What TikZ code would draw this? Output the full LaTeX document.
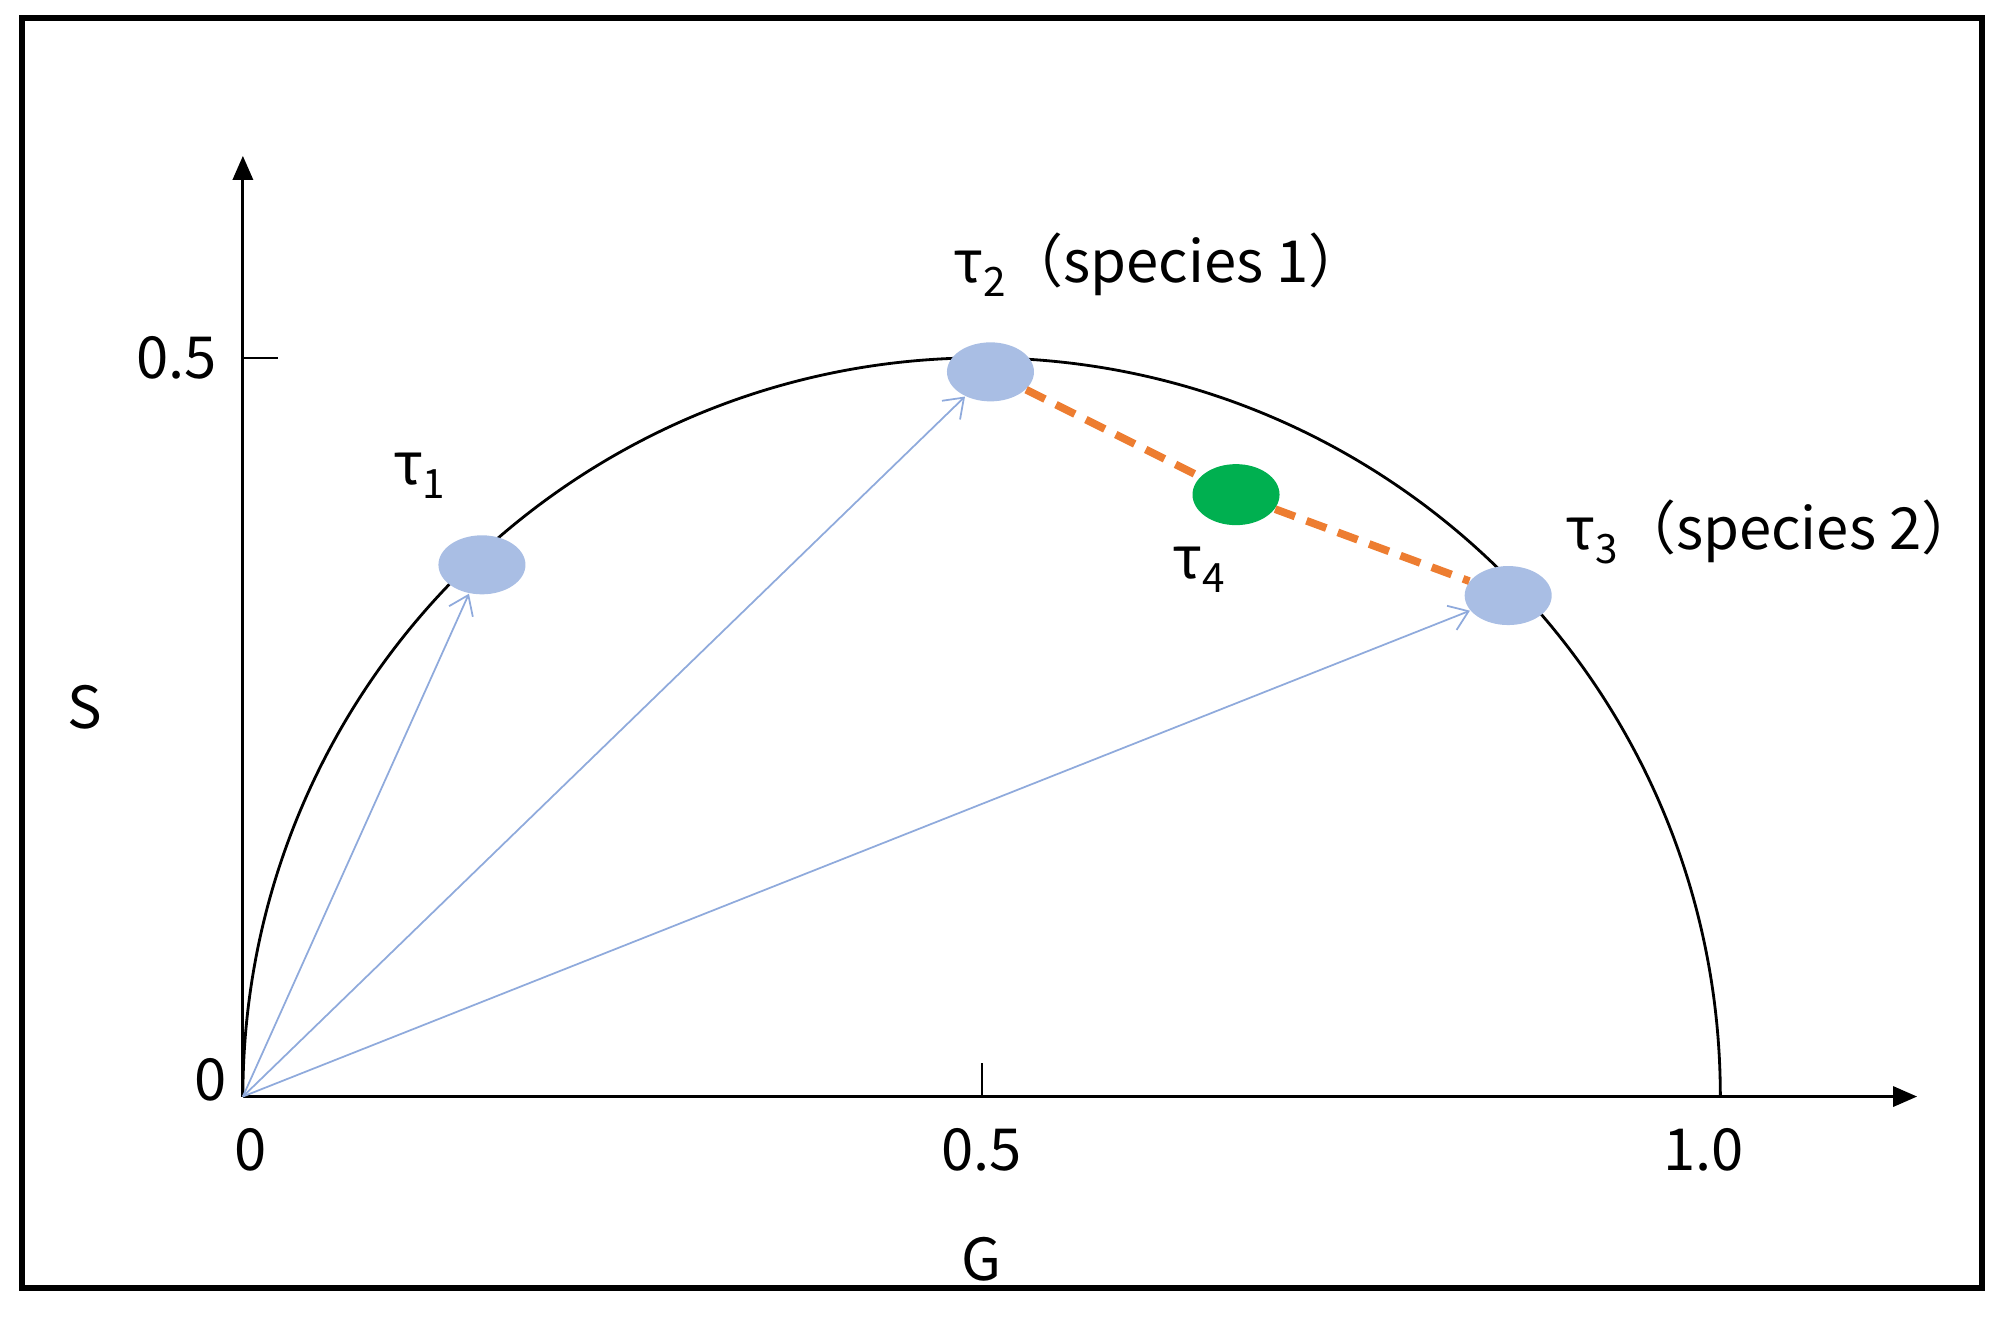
\documentclass[tikz,border=0pt]{standalone}
\usepackage{fontspec}
\setmainfont{Noto Sans CJK SC}
\usetikzlibrary{arrows.meta,shapes.geometric}
\definecolor{vecblue}{HTML}{8FAADC}
\definecolor{dotblue}{HTML}{A9BEE4}
\definecolor{mixgreen}{HTML}{00B050}
\definecolor{linkorange}{HTML}{ED7D31}
\newcommand\idx[1]{\raisebox{-0.45ex}{\fontsize{11.5}{13}\selectfont #1}}

\begin{document}
\begin{tikzpicture}[x=14.77cm, y=14.77cm, font=\fontsize{16.5}{20}\selectfont,
    axis/.style={line width=0.9pt, -{Triangle[length=2.4mm,width=2mm]}},
    tick/.style={line width=0.6pt},
    species/.style={ellipse, fill=dotblue, minimum width=0.87cm, minimum height=0.59cm, inner sep=0pt},
    mixture/.style={ellipse, fill=mixgreen, minimum width=0.87cm, minimum height=0.61cm, inner sep=0pt},
    vec/.style={vecblue, line width=0.5pt, -{Straight Barb[length=1.8mm,width=2.6mm]}},
    link/.style={linkorange, line width=2.2pt, dash pattern=on 6pt off 3.5pt}]
      \useasboundingbox (-0.1644,-0.1488) rectangle (1.1920,0.7422);
      \draw [line width=1.7pt] (-0.1497,-0.1298) rectangle (1.1773,0.7300);
      \coordinate (O) at (0,0);
      \draw [axis] (O) -- (0,0.6367);
      \draw [axis] (O) -- (1.1332,0);
      \draw [tick] (0,0.5) -- (0.024,0.5);
      \draw [tick] (0.5,0) -- (0.5,0.0225);
      \draw [line width=0.8pt] (1,0) arc [start angle=0, end angle=180, radius=0.5];
      \node (yhalf) [anchor=east] at (-0.009,0.5) {0.5};
      \node (yzero) at (-0.0216,0.0112) {0};
      \node (xzero) at (0.0052,-0.0363) {0};
      \node (xhalf) at (0.5,-0.0363) {0.5};
      \node (xone) at (0.9888,-0.0363) {1.0};
      \node (G) at (0.5,-0.11) {G};
      \node (S) at (-0.1073,0.2638) {S};
      \node (t1) [species] at (0.1618,0.3599) {};
      \node (t2) [species] at (0.506,0.4905) {};
      \node (t3) [species] at (0.8564,0.3391) {};
      \node (t4) [mixture] at (0.6722,0.4074) {};
      \node (t1lab) at (0.1194,0.4204) {τ\idx{1}};
      \node (t2lab) [anchor=west] at (0.4725,0.5631) {τ\idx{2}（species 1）};
      \node (t3lab) [anchor=west] at (0.8870,0.3824) {τ\idx{3}（species 2）};
      \node (t4lab) at (0.647,0.3564) {τ\idx{4}};
      \draw [link] (t2) -- (t4) -- (t3);
      \draw [vec] (O) -- (t1);
      \draw [vec] (O) -- (t2);
      \draw [vec] (O) -- (t3);
    \end{tikzpicture}
\end{document}
